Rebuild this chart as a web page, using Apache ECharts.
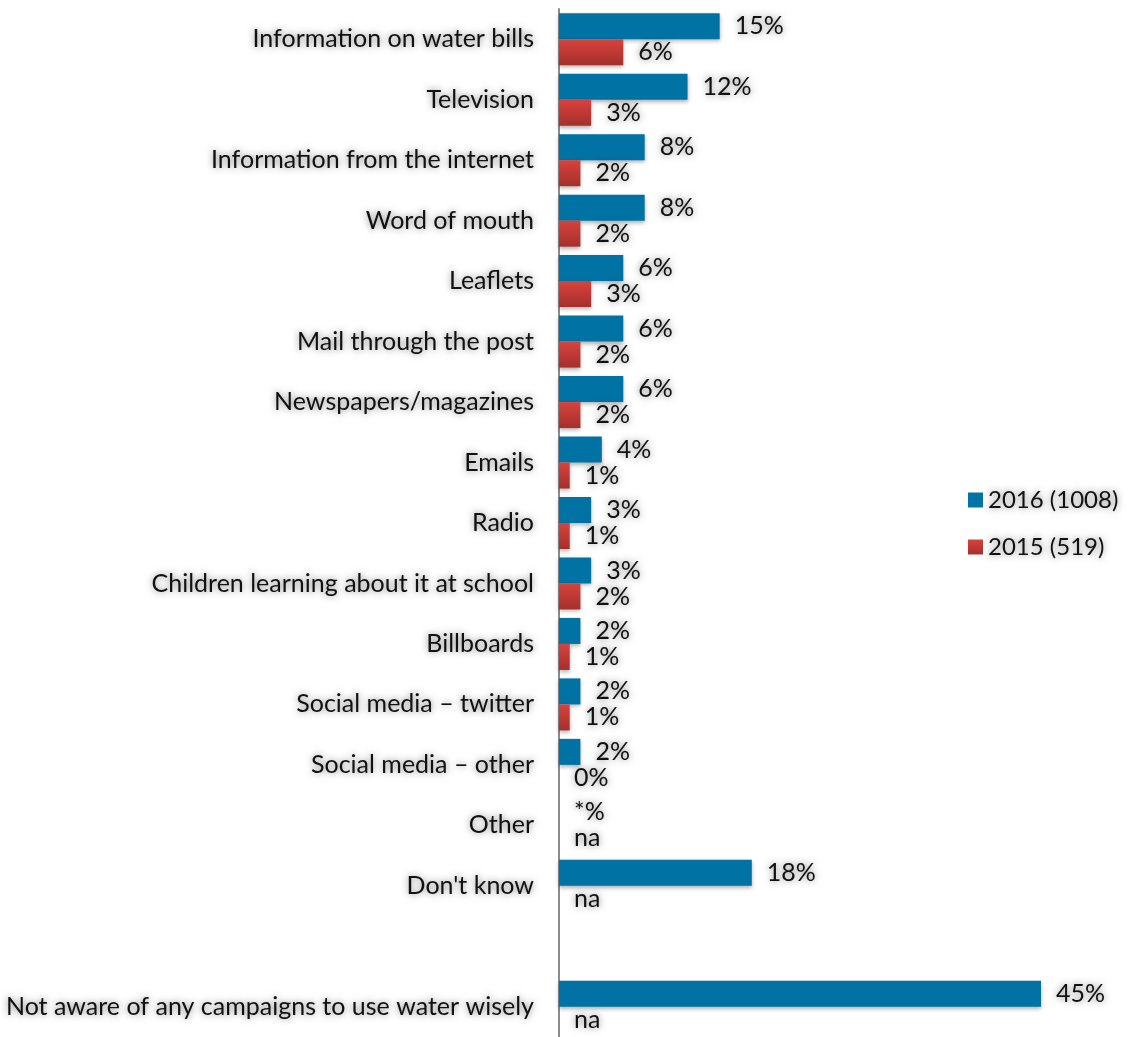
<!DOCTYPE html>
<html>
<head>
<meta charset="utf-8">
<script src="https://cdn.jsdelivr.net/npm/echarts@6/dist/echarts.min.js"></script>
<style>
  html, body { margin: 0; padding: 0; background: #ffffff; }
  #chart { width: 1128px; height: 1037px; }
</style>
</head>
<body>
<div id="chart"></div>
<script>
// Sources of awareness of water-saving campaigns (% of respondents)
const categories = [
  'Information on water bills',
  'Television',
  'Information from the internet',
  'Word of mouth',
  'Leaflets',
  'Mail through the post',
  'Newspapers/magazines',
  'Emails',
  'Radio',
  'Children learning about it at school',
  'Billboards',
  'Social media \u2013 twitter',
  'Social media \u2013 other',
  'Other',
  "Don't know",
  '',
  'Not aware of any campaigns to use water wisely'
];

// '*' = less than 0.5%, null = not asked (na), undefined = spacer row
const values2016 = [15, 12, 8, 8, 6, 6, 6, 4, 3, 3, 2, 2, 2, '*', 18, undefined, 45];
const values2015 = [6, 3, 2, 2, 3, 2, 2, 1, 1, 2, 1, 1, 0, null, null, undefined, null];

const seriesNames = ['2016 (1008)', '2015 (519)'];

const FONT = 'Lato';
const shadowText = {
  textShadowColor: 'rgba(0,0,0,0.5)',
  textShadowBlur: 7
};

function toData(values) {
  return values.map(function (v) {
    if (v === undefined) return '-';
    if (v === null) return { value: 0, label: { formatter: 'na' } };
    if (v === '*') return { value: 0, label: { formatter: '*%' } };
    return v;
  });
}

const blue = '#0072a3';
const redGradient = new echarts.graphic.LinearGradient(0, 0, 0, 1, [
  { offset: 0, color: '#d9423d' },
  { offset: 1, color: '#a3302c' }
]);

const labelBase = Object.assign({
  show: true,
  position: 'right',
  distance: 15,
  color: '#111',
  fontFamily: FONT,
  fontSize: 25,
  formatter: '{c}%'
}, shadowText);

const chart = echarts.init(document.getElementById('chart'));
chart.setOption({
  animation: false,
  backgroundColor: '#ffffff',
  grid: { left: 559, width: 482, top: 9, height: 1033, containLabel: false },
  legend: {
    orient: 'vertical',
    left: 963,
    top: 483,
    itemWidth: 15,
    itemHeight: 15,
    itemGap: 23,
    icon: 'rect',
    textStyle: Object.assign({ color: '#111', fontFamily: FONT, fontSize: 24 }, shadowText),
    data: seriesNames
  },
  xAxis: {
    type: 'value',
    min: 0,
    max: 45,
    show: false
  },
  yAxis: {
    type: 'category',
    inverse: true,
    data: categories,
    axisLine: { show: true, lineStyle: { color: '#8c8c8c', width: 2 } },
    axisTick: { show: false },
    axisLabel: Object.assign({
      color: '#111',
      fontFamily: FONT,
      fontSize: 25,
      margin: 25
    }, shadowText)
  },
  series: [
    {
      name: seriesNames[0],
      type: 'bar',
      barWidth: 26,
      barGap: '0%',
      itemStyle: {
        color: blue,
        shadowColor: 'rgba(0,0,0,0.3)',
        shadowBlur: 4,
        shadowOffsetY: 2
      },
      label: labelBase,
      data: toData(values2016)
    },
    {
      name: seriesNames[1],
      type: 'bar',
      barWidth: 26,
      barGap: '0%',
      itemStyle: {
        color: redGradient,
        shadowColor: 'rgba(0,0,0,0.3)',
        shadowBlur: 4,
        shadowOffsetY: 2
      },
      label: labelBase,
      data: toData(values2015)
    }
  ]
});
</script>
</body>
</html>
